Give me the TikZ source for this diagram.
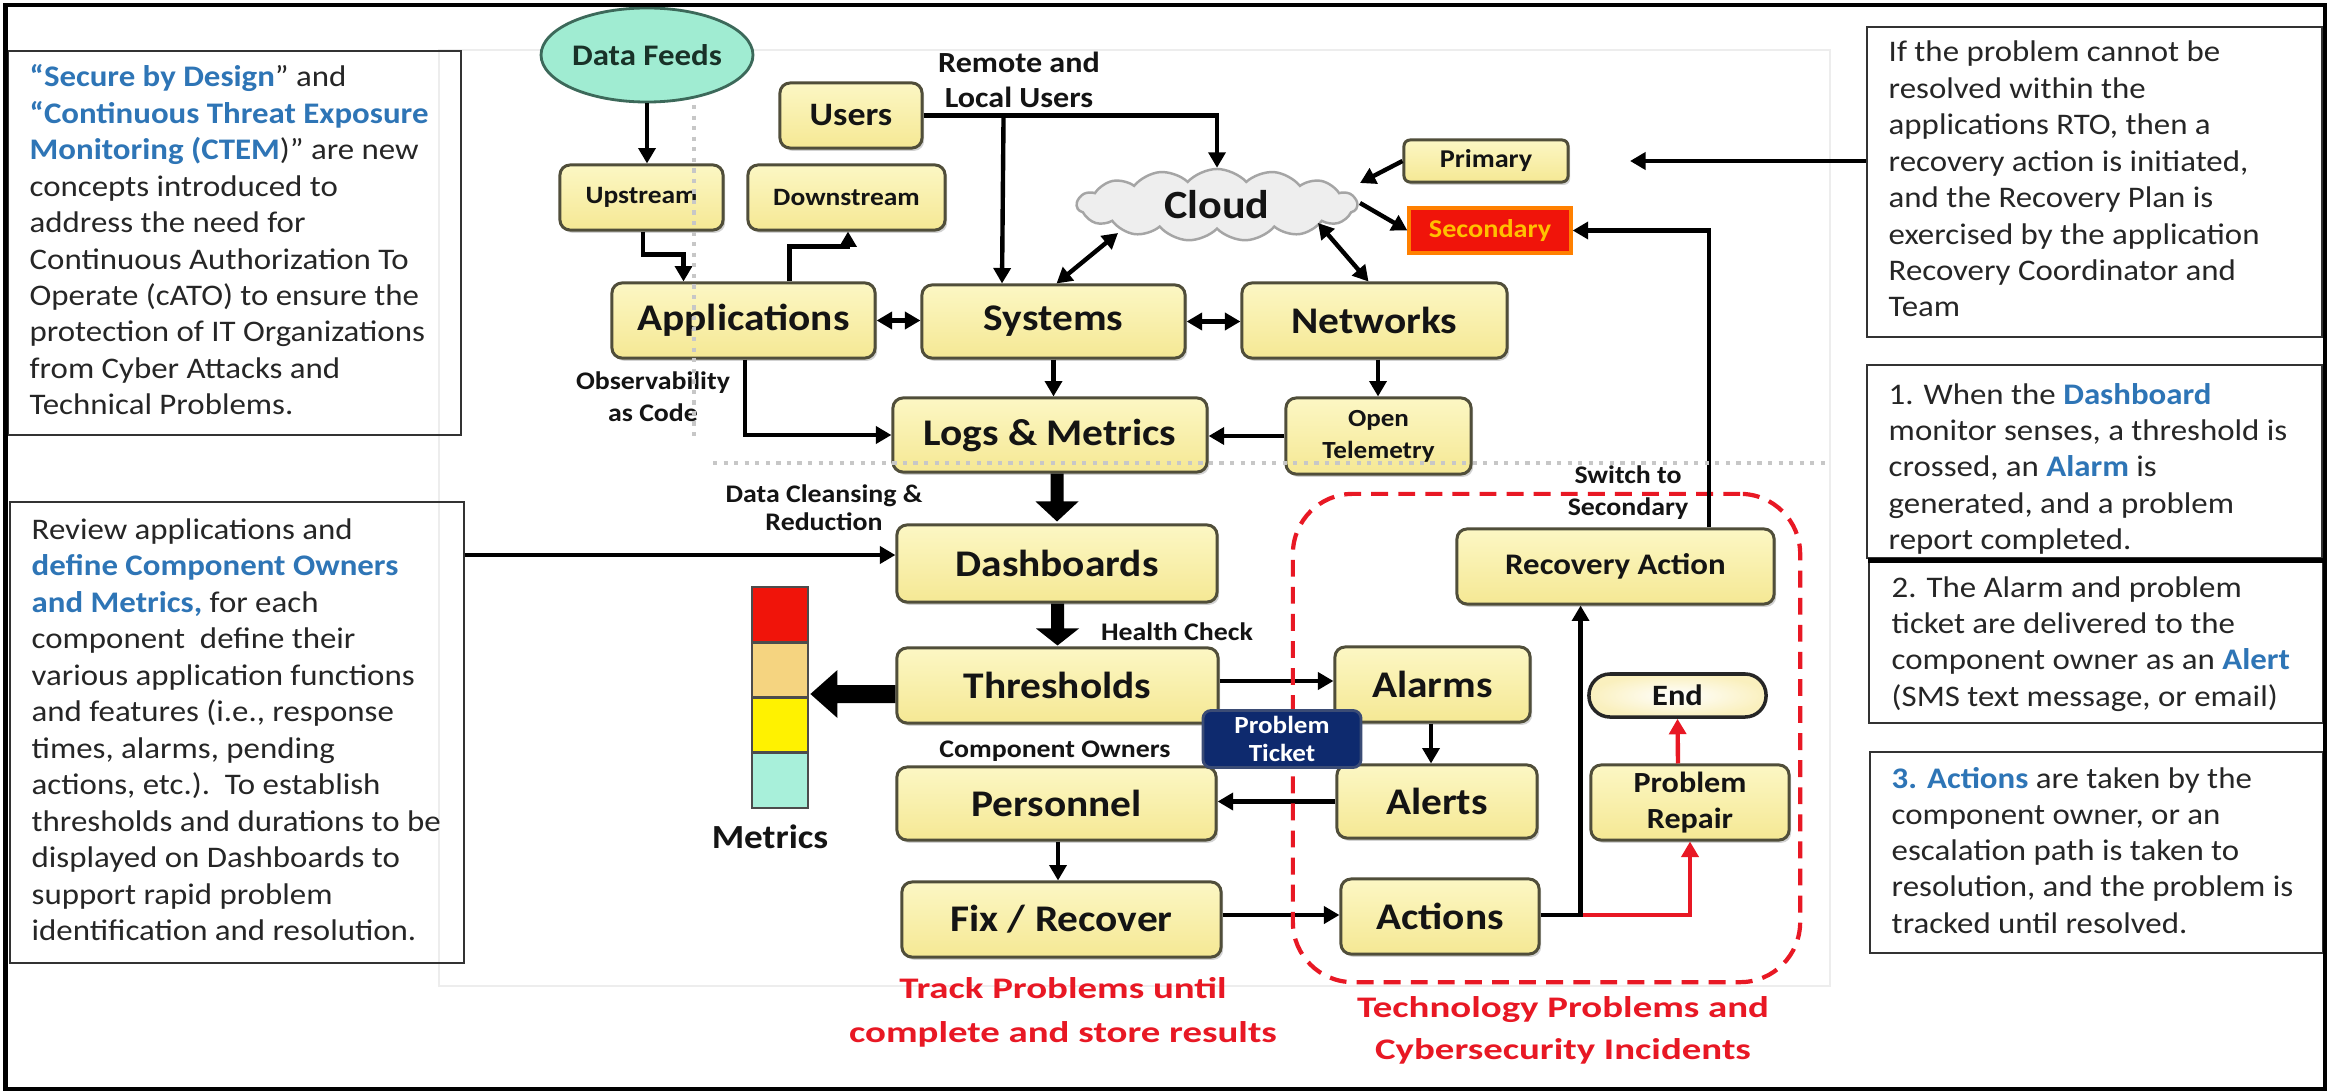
\documentclass[tikz,border=0pt]{standalone}
\usepackage{fontspec}
\setmainfont{Carlito}
\newfontfamily\cf{Carlito}[FakeStretch=1.1]
\newfontfamily\rf{Carlito}[FakeStretch=1.3]
\usetikzlibrary{arrows.meta,calc,shapes.symbols,shapes.geometric,shadows}

\definecolor{boxline}{RGB}{80,78,58}
\definecolor{boxtop}{RGB}{252,247,196}
\definecolor{boxbot}{RGB}{245,232,148}
\definecolor{ink}{RGB}{20,20,20}
\definecolor{bodyink}{RGB}{38,38,38}
\definecolor{blu}{RGB}{46,117,182}
\definecolor{mint}{RGB}{160,236,210}
\definecolor{mintline}{RGB}{60,105,90}
\definecolor{feedink}{RGB}{25,50,40}
\definecolor{cloudfill}{RGB}{238,238,238}
\definecolor{cloudline}{RGB}{165,165,165}
\definecolor{alarmred}{RGB}{240,20,10}
\definecolor{gold}{RGB}{255,192,0}
\definecolor{navy}{RGB}{14,42,110}
\definecolor{warnred}{RGB}{232,24,36}
\definecolor{beige}{RGB}{245,212,128}
\definecolor{barmint}{RGB}{168,240,218}
\definecolor{endfill}{RGB}{250,240,190}

\newcommand\fsz[2]{\fontsize{#1}{#2}\selectfont}
\newcommand\hl[1]{\textcolor{blu}{\bfseries #1}}

\begin{document}
\begin{tikzpicture}[x=0.01cm, y=-0.01cm,
  ybox/.style={draw=boxline, line width=0.85pt, rounded corners=0.1cm,
    top color=boxtop, bottom color=boxbot, inner sep=0pt, text=ink, align=center,
    drop shadow={shadow xshift=0.6pt, shadow yshift=-0.8pt, opacity=0.35}},
  bigf/.style={font=\cf\bfseries\fsz{10.7}{12}},
  textbox/.style={draw=black!80, line width=0.7pt, inner sep=0pt},
  body/.style={anchor=base west, inner sep=0pt, text=bodyink, font=\cf\fsz{8.5}{10.4}},
  lbl/.style={inner sep=0pt, text=ink, align=center},
  conn/.style={line width=1.25pt, draw=black},
  arr/.style={conn, -{Triangle[length=4.4pt,width=4.8pt]}},
  darr/.style={conn, {Triangle[length=4.4pt,width=4.8pt]}-{Triangle[length=4.4pt,width=4.8pt]}},
  rarr/.style={line width=1.25pt, draw=warnred, -{Triangle[length=4.4pt,width=4.8pt]}},
  barseg/.style={draw=black!70, line width=0.8pt, minimum width=0.56cm, minimum height=0.5525cm, inner sep=0pt}
]
\useasboundingbox (0,0) rectangle (2331,1091);
\fill[white] (0,0) rectangle (2331,1091);

% faint panel behind the flow chart
\draw[black!7, line width=0.6pt] (439,50) rectangle (1830,986);

% ---------- side text boxes ----------
\node[textbox, minimum width=4.53cm, minimum height=3.84cm] (b1) at (234.5,243) {};
\node[textbox, minimum width=4.54cm, minimum height=4.61cm] (b2) at (237,732.5) {};
\node[textbox, minimum width=4.55cm, minimum height=3.10cm] (r1) at (2094.5,182) {};
\node[textbox, minimum width=4.55cm, minimum height=1.93cm] (r2) at (2094.5,461.5) {};
\node[textbox, minimum width=4.54cm, minimum height=1.61cm] (r3) at (2096,642.5) {};
\draw[line width=1.3pt] (r3.north west) -- (r3.north east);
\node[textbox, minimum width=4.53cm, minimum height=2.01cm] (r4) at (2096.5,852.5) {};

\foreach \t [count=\i from 0] in {
  {\hl{“Secure by Design}” and},
  {\hl{“Continuous Threat Exposure}},
  {\hl{Monitoring (CTEM})” are new},
  {concepts introduced to},
  {address the need for},
  {Continuous Authorization To},
  {Operate (cATO) to ensure the},
  {protection of IT Organizations},
  {from Cyber Attacks and},
  {Technical Problems.}}
  \node[body] (ta\i) at (29,{87+\i*36.4}) {\t};

\foreach \t [count=\i from 0] in {
  {Review applications and},
  {\hl{define Component Owners}},
  {\hl{and Metrics,} for each},
  {component\ \ define their},
  {various application functions},
  {and features (i.e., response},
  {times, alarms, pending},
  {actions, etc.).\ \ To establish},
  {thresholds and durations to be},
  {displayed on Dashboards to},
  {support rapid problem},
  {identification and resolution.}}
  \node[body] (tb\i) at (31,{539+\i*36.5}) {\t};

\foreach \t [count=\i from 0] in {
  {If the problem cannot be},
  {resolved within the},
  {applications RTO, then a},
  {recovery action is initiated,},
  {and the Recovery Plan is},
  {exercised by the application},
  {Recovery Coordinator and},
  {Team}}
  \node[body] (tc\i) at (1888,{62+\i*36.4}) {\t};

\foreach \t [count=\i from 0] in {
  {1. When the \hl{Dashboard}},
  {monitor senses, a threshold is},
  {crossed, an \hl{Alarm} is},
  {generated, and a problem},
  {report completed.}}
  \node[body] (td\i) at (1888,{404+\i*36.4}) {\t};

\foreach \t [count=\i from 0] in {
  {2. The Alarm and problem},
  {ticket are delivered to the},
  {component owner as an \hl{Alert}},
  {(SMS text message, or email)}}
  \node[body] (te\i) at (1891,{597+\i*36.4}) {\t};

\foreach \t [count=\i from 0] in {
  {\hl{3. Actions} are taken by the},
  {component owner, or an},
  {escalation path is taken to},
  {resolution, and the problem is},
  {tracked until resolved.}}
  \node[body] (tf\i) at (1891,{788+\i*36.3}) {\t};

% ---------- flow chart nodes ----------
\node[ellipse, draw=mintline, line width=0.8pt, fill=mint, minimum width=2.0cm,
  minimum height=0.94cm, inner sep=0pt, text=feedink, font=\cf\bfseries\fsz{8.5}{10}] (feeds) at (647,55) {Data Feeds};
\node[ybox, minimum width=1.42cm, minimum height=0.65cm, font=\cf\bfseries\fsz{9.3}{11}] (users) at (851,115.5) {Users};
\node[ybox, minimum width=1.63cm, minimum height=0.65cm, font=\cf\bfseries\fsz{7.1}{9}] (up) at (641.5,197.5) {Upstream};
\node[ybox, minimum width=1.97cm, minimum height=0.65cm, font=\cf\bfseries\fsz{7.1}{9}] (down) at (846.5,197.5) {Downstream};
\node[ybox, bigf, minimum width=2.63cm, minimum height=0.75cm] (app) at (743.5,320.5) {Applications};
\node[ybox, bigf, minimum width=2.63cm, minimum height=0.73cm] (sys) at (1053.5,321.5) {Systems};
\node[ybox, bigf, minimum width=2.65cm, minimum height=0.75cm] (net) at (1374.5,320.5) {Networks};
\node[cloud, cloud puffs=15, cloud puff arc=95, aspect=4, draw=cloudline, fill=cloudfill, line width=0.7pt,
  minimum width=2.8cm, minimum height=0.72cm, inner sep=0pt, text=ink,
  font=\cf\bfseries\fsz{11.4}{13}] (cloud) at (1217,205) {Cloud};
\node[ybox, rounded corners=0.06cm, minimum width=1.64cm, minimum height=0.42cm,
  font=\cf\bfseries\fsz{7.3}{9}] (prim) at (1486,161) {Primary};
\node[draw=orange, line width=0.9pt, fill=alarmred, minimum width=1.62cm, minimum height=0.45cm,
  inner sep=0pt, text=gold, font=\cf\bfseries\fsz{7.3}{9}] (sec) at (1490,230.5) {Secondary};
\node[ybox, bigf, minimum width=3.14cm, minimum height=0.74cm] (logs) at (1050,435) {Logs \& Metrics};
\node[ybox, minimum width=1.85cm, minimum height=0.76cm, font=\cf\bfseries\fsz{7}{9.1}] (otel) at (1378.5,436) {Open\\Telemetry};
\node[ybox, bigf, minimum width=3.20cm, minimum height=0.77cm] (dash) at (1057,563.5) {Dashboards};
\node[ybox, bigf, minimum width=3.21cm, minimum height=0.75cm] (thr) at (1057.5,685.5) {Thresholds};
\node[ybox, bigf, minimum width=3.19cm, minimum height=0.73cm] (pers) at (1056.5,803.5) {Personnel};
\node[ybox, bigf, minimum width=3.19cm, minimum height=0.75cm] (fix) at (1061.5,919.5) {Fix / Recover};
\node[ybox, bigf, minimum width=1.95cm, minimum height=0.75cm] (alarms) at (1432.5,684.5) {Alarms};
\node[ybox, bigf, minimum width=2.00cm, minimum height=0.73cm] (alerts) at (1437,801.5) {Alerts};
\node[ybox, bigf, minimum width=1.98cm, minimum height=0.75cm] (actions) at (1440,916.5) {Actions};
\node[ybox, minimum width=3.17cm, minimum height=0.75cm, font=\cf\bfseries\fsz{8.5}{10}] (rec) at (1615.5,566.5) {Recovery Action};
\node[draw=black!85, line width=1pt, rounded corners=0.21cm, inner color=white, outer color=endfill,
  minimum width=1.77cm, minimum height=0.43cm, inner sep=0pt, text=ink,
  font=\cf\bfseries\fsz{8.4}{10}] (end) at (1677.5,695.5) {End};
\node[ybox, minimum width=1.98cm, minimum height=0.75cm, font=\cf\bfseries\fsz{8.3}{10}] (repair) at (1690,802.5) {Problem\\Repair};

% metrics bar
\node[barseg, fill=alarmred] (m1) at (780,614.6) {};
\node[barseg, fill=beige] (m2) at (780,669.9) {};
\node[barseg, fill=yellow] (m3) at (780,725.1) {};
\node[barseg, fill=barmint] (m4) at (780,780.4) {};

% ---------- labels ----------
\node[lbl, font=\cf\bfseries\fsz{8.3}{10}] (remote) at (1019,80) {Remote and\\Local Users};
\node[lbl, font=\cf\bfseries\fsz{7.2}{9.1}] (obs) at (653,397) {Observability\\as Code};
\node[lbl, font=\cf\bfseries\fsz{7.2}{8}] (clean) at (824,508) {Data Cleansing \&\\Reduction};
\node[lbl, font=\cf\bfseries\fsz{7.2}{9}] (health) at (1177,632) {Health Check};
\node[lbl, font=\cf\bfseries\fsz{7.2}{9}] (owners) at (1055,751) {Component Owners};
\node[lbl, font=\cf\bfseries\fsz{9.6}{11}] (mlabel) at (770,837) {Metrics};
\node[lbl, font=\cf\bfseries\fsz{7.2}{9.1}] (switch) at (1628,493) {Switch to\\Secondary};
\node[lbl, text=warnred, font=\rf\bfseries\fsz{8.5}{12.5}] (track) at (1063,1012) {Track Problems until\\complete and store results};
\node[lbl, text=warnred, font=\rf\bfseries\fsz{8.5}{12}] (tech) at (1563,1030) {Technology Problems and\\Cybersecurity Incidents};

% ---------- connectors ----------
\draw[arr] (feeds.south) -- (feeds.south |- up.north);
\draw[arr] ($(up.south)+(1.5,0)$) -- ++(0,23) -| ($(app.north)+(-60,0)$);
\draw[arr] ($(app.north)+(46,0)$) -- ++(0,-35) -| ($(down.south)+(1.5,0)$);
\draw[arr] (users.east) -| (cloud.north);
\draw[arr] ($(users.east)+(80,0)$) -- ($(sys.north)+(-51.5,0)$);
\draw[darr] (app.east) -- (app.east -| sys.west);
\draw[darr] (sys.east) -- (sys.east -| net.west);
\draw[darr] ($(sys.north)+(3,0)$) -- ($(cloud.center)+(-99,28)$);
\draw[darr] ($(cloud.center)+(101,18)$) -- ($(net.north)+(-6,0)$);
\draw[arr] (prim.west) -- ($(cloud.center)+(143,-22)$);
\draw[arr] ($(cloud.center)+(143,-2)$) -- (sec.west);
\draw[arr] ($(net.south)+(3.5,0)$) -- ($(otel.north)+(-0.5,0)$);
\draw[arr] (otel.west) -- (otel.west -| logs.east);
\draw[arr] ($(app.south)+(1.5,0)$) |- (logs.west);
\draw[arr] (sys.south) -- (sys.south |- logs.north);
\coordinate (rtip) at (1630,161);
\draw[arr] (r1.west |- rtip) -- (rtip);
\coordinate (dashin) at ($(dash.west)+(0,-8.5)$);
\draw[arr] (b2.east |- dashin) -- (dashin);

% block arrows
\fill[black] ($(logs.south -| dash.north)+(-6.5,0)$) -- ($(dash.north)+(-6.5,-22)$)
  -- ($(dash.north)+(-21.5,-22)$) -- ($(dash.north)+(0,-2)$) -- ($(dash.north)+(21.5,-22)$)
  -- ($(dash.north)+(6.5,-22)$) -- ($(logs.south -| dash.north)+(6.5,0)$) -- cycle;
\fill[black] ($(dash.south -| thr.north)+(-6.5,0)$) -- ($(thr.north)+(-6.5,-18)$)
  -- ($(thr.north)+(-21.5,-18)$) -- ($(thr.north)+(0,-1)$) -- ($(thr.north)+(21.5,-18)$)
  -- ($(thr.north)+(6.5,-18)$) -- ($(dash.south -| thr.north)+(6.5,0)$) -- cycle;
\fill[black] ($(thr.west)+(0,-0.5)$) -- ($(thr.west)+(-58,-0.5)$) -- ($(thr.west)+(-58,-15.5)$)
  -- ($(thr.west)+(-85,8.5)$) -- ($(thr.west)+(-58,32.5)$) -- ($(thr.west)+(-58,17.5)$)
  -- ($(thr.west)+(0,17.5)$) -- cycle;

\draw[arr] ($(thr.east)+(0,-4.5)$) -- ($(alarms.west)+(0,-3.5)$);
\draw[arr] ($(alarms.south)+(-1.5,0)$) -- ($(alerts.north)+(-6,0)$);
\draw[arr] (alerts.west) -- (alerts.west -| pers.east);
\draw[arr] ($(pers.south)+(1.5,0)$) -- ($(fix.north)+(-3.5,0)$);
\draw[arr] ($(fix.east)+(0,-4.5)$) -- ($(actions.west)+(0,-1.5)$);
\coordinate (split) at ($(actions.east)+(40,-1.5)$);
\draw[rarr] (split) -| (repair.south);
\draw[arr] (actions.east |- split) -- (split) -- (split |- rec.south);
\draw[rarr] ($(repair.north)+(-12,0)$) -- (end.south);

% incident zone
\node[draw=warnred, line width=1.2pt, dash pattern=on 4.8pt off 2.9pt, rounded corners=0.6cm,
  minimum width=5.07cm, minimum height=4.88cm, inner sep=0pt] (zone) at (1546.5,738) {};

\draw[arr] ($(rec.north)+(93.5,0)$) |- (sec.east);

\node[draw=navy!60!gray, line width=0.8pt, fill=navy, rounded corners=0.08cm, minimum width=1.58cm,
  minimum height=0.57cm, inner sep=0pt, text=white, align=center,
  font=\cf\bfseries\fsz{7}{8}] (ticket) at (1282,739) {Problem\\Ticket};

% faint guide lines
\draw[black!22, line width=0.9pt, dash pattern=on 1.2pt off 1.8pt] (694,105) -- (694,440);
\draw[black!22, line width=0.9pt, dash pattern=on 1.2pt off 1.8pt] (713,463) -- (1830,463);

% outer frame
\draw[line width=1.3pt] (5.5,5) rectangle (2325,1089);
\end{tikzpicture}
\end{document}
